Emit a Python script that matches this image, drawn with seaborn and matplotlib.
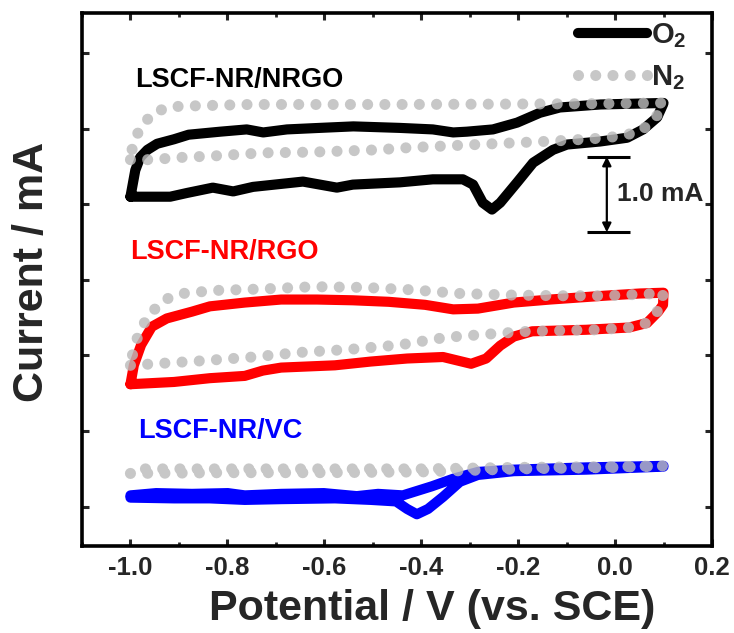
import numpy as np
import pandas as pd
import seaborn as sns
import matplotlib
matplotlib.use("Agg")
import matplotlib.pyplot as plt
from matplotlib.lines import Line2D
from matplotlib.ticker import MultipleLocator

# ---- cyclic voltammograms (potential in V vs. SCE, current in mA, curves offset) ----
# LSCF-NR/NRGO
nrgo_o2_v = [-1.0, -0.99, -0.98, -0.965, -0.945, -0.91, -0.88, -0.815, -0.76, -0.726, -0.677, -0.61,
             -0.54, -0.444, -0.376, -0.334, -0.306, -0.252, -0.202, -0.155, -0.114, -0.03, 0.037, 0.1,
             0.099, 0.087, 0.058, 0.025, -0.031, -0.099, -0.128, -0.169, -0.202, -0.237, -0.254, -0.273,
             -0.293, -0.314, -0.376, -0.444, -0.541, -0.574, -0.644, -0.747, -0.788, -0.83, -0.883,
             -0.918, -1.0]
nrgo_o2_i = [4.10, 4.45, 4.62, 4.72, 4.80, 4.86, 4.92, 4.96, 4.99, 4.95, 4.99, 5.01,
             5.03, 5.01, 4.99, 4.95, 4.96, 4.99, 5.08, 5.21, 5.28, 5.32, 5.33, 5.34,
             5.32, 5.15, 4.99, 4.88, 4.83, 4.79, 4.72, 4.55, 4.29, 4.02, 3.93, 4.02,
             4.26, 4.33, 4.33, 4.29, 4.26, 4.22, 4.30, 4.23, 4.17, 4.22, 4.15,
             4.10, 4.10]
nrgo_n2_v = [-1.0, -0.96, -0.894, -0.826, -0.726, -0.623, -0.491, -0.423, -0.32, -0.217, -0.149,
             -0.087, -0.017, 0.016, 0.051, 0.082, 0.1, -0.031, -0.444, -0.753, -0.877, -0.918,
             -0.953, -0.98, -0.995, -1.0]
nrgo_n2_i = [4.59, 4.59, 4.62, 4.64, 4.68, 4.69, 4.72, 4.75, 4.78, 4.81, 4.83,
             4.85, 4.88, 4.91, 4.96, 5.12, 5.34, 5.33, 5.32, 5.32, 5.30, 5.29,
             5.21, 5.01, 4.79, 4.59]

# LSCF-NR/RGO
rgo_o2_v = [-1.0, -0.993, -0.978, -0.956, -0.925, -0.873, -0.836, -0.764, -0.689, -0.615, -0.541,
            -0.467, -0.392, -0.334, -0.283, -0.209, -0.134, -0.023, 0.051, 0.1,
            0.099, 0.089, 0.066, 0.029, -0.06, -0.171, -0.209, -0.237, -0.266, -0.297, -0.355,
            -0.429, -0.504, -0.578, -0.689, -0.727, -0.764, -0.836, -0.91, -1.0]
rgo_o2_i = [1.62, 1.87, 2.14, 2.38, 2.49, 2.58, 2.65, 2.70, 2.74, 2.74, 2.73,
            2.71, 2.67, 2.61, 2.62, 2.70, 2.74, 2.79, 2.82, 2.83,
            2.67, 2.58, 2.43, 2.37, 2.34, 2.32, 2.25, 2.13, 1.96, 1.89, 1.98,
            1.96, 1.92, 1.87, 1.84, 1.80, 1.73, 1.70, 1.65, 1.62]
rgo_n2_v = [-1.0, -0.951, -0.852, -0.747, -0.652, -0.549, -0.444, -0.349, -0.246, -0.178, -0.037,
            0.029, 0.066, 0.091, 0.1, 0.089, -0.017, -0.112, -0.219, -0.32, -0.423, -0.518,
            -0.621, -0.727, -0.826, -0.892, -0.929, -0.96, -0.98, -0.993, -1.0]
rgo_n2_i = [1.87, 1.89, 1.93, 1.98, 2.04, 2.08, 2.14, 2.24, 2.29, 2.32, 2.34,
            2.37, 2.43, 2.61, 2.83, 2.82, 2.79, 2.79, 2.80, 2.82, 2.87, 2.90,
            2.91, 2.88, 2.86, 2.82, 2.74, 2.55, 2.34, 2.10, 1.87]

# LSCF-NR/VC
vc_o2_v = [-1.0, -0.947, -0.873, -0.799, -0.764, -0.689, -0.601, -0.533, -0.489, -0.438, -0.378,
           -0.334, -0.283, -0.209, -0.06, 0.1,
           0.1, -0.06, -0.209, -0.283, -0.32, -0.355, -0.386, -0.409, -0.429, -0.452, -0.504,
           -0.578, -0.689, -0.764, -0.836, -0.91, -1.0]
vc_o2_i = [0.15, 0.18, 0.17, 0.18, 0.15, 0.17, 0.18, 0.14, 0.17, 0.15, 0.27,
           0.37, 0.46, 0.49, 0.52, 0.54,
           0.53, 0.49, 0.47, 0.42, 0.33, 0.13, -0.03, -0.10, -0.03, 0.07, 0.09,
           0.11, 0.10, 0.09, 0.11, 0.11, 0.12]
vc_n2_v = [-1.0, -0.8, -0.6, -0.4, -0.3, -0.2, 0.0, 0.1, 0.0, -0.2, -0.3, -0.4, -0.6, -0.8, -0.98]
vc_n2_i = [0.44, 0.45, 0.45, 0.46, 0.48, 0.50, 0.52, 0.54, 0.53, 0.52, 0.51, 0.50, 0.50, 0.50, 0.50]

samples = ["LSCF-NR/NRGO", "LSCF-NR/RGO", "LSCF-NR/VC"]
sample_colors = ["#000000", "#ff0000", "#0000ff"]
label_pos = [(-0.99, 5.65), (-1.0, 3.37), (-0.985, 1.0)]
xtick_values = [-1.0, -0.8, -0.6, -0.4, -0.2, 0.0, 0.2]
xtick_labels = ["-1.0", "-0.8", "-0.6", "-0.4", "-0.2", "0.0", "0.2"]

curves = {
    ("LSCF-NR/NRGO", "O2"): (nrgo_o2_v, nrgo_o2_i),
    ("LSCF-NR/NRGO", "N2"): (nrgo_n2_v, nrgo_n2_i),
    ("LSCF-NR/RGO", "O2"): (rgo_o2_v, rgo_o2_i),
    ("LSCF-NR/RGO", "N2"): (rgo_n2_v, rgo_n2_i),
    ("LSCF-NR/VC", "O2"): (vc_o2_v, vc_o2_i),
    ("LSCF-NR/VC", "N2"): (vc_n2_v, vc_n2_i),
}

frames = []
for (sample, gas), (v, i) in curves.items():
    frames.append(pd.DataFrame({"potential": v, "current": i, "sample": sample, "gas": gas,
                                "step": np.arange(len(v))}))
df = pd.concat(frames, ignore_index=True)

sns.set_theme(style="ticks")
plt.rcParams["font.family"] = ["Liberation Sans", "DejaVu Sans"]
plt.rcParams["font.weight"] = "bold"
plt.rcParams["mathtext.fontset"] = "custom"
plt.rcParams["mathtext.rm"] = "Liberation Sans:bold"
plt.rcParams["mathtext.bf"] = "Liberation Sans:bold"

fig = plt.figure(figsize=(7.34, 6.33), dpi=100)
ax = fig.add_axes([0.1117, 0.1374, 0.8583, 0.8421])

N2_GREY = "#bbbbbb"
O2_LW = 7.3
N2_LW = 8.0
DOT = (0, (0.001, 1.55))

for sample, color in zip(samples, sample_colors):
    sub = df[(df["sample"] == sample) & (df["gas"] == "O2")]
    sns.lineplot(data=sub, x="potential", y="current", sort=False, estimator=None,
                 color=color, linewidth=O2_LW, legend=False, ax=ax)
    ax.lines[-1].set_solid_joinstyle("round")
    ax.lines[-1].set_solid_capstyle("round")
for sample in samples:
    sub = df[(df["sample"] == sample) & (df["gas"] == "N2")]
    sns.lineplot(data=sub, x="potential", y="current", sort=False, estimator=None,
                 color=N2_GREY, linewidth=N2_LW, alpha=0.82, legend=False, ax=ax)
    ln = ax.lines[-1]
    ln.set_linestyle(DOT)
    ln.set_dash_capstyle("round")

for sample, color, (lx, ly) in zip(samples, sample_colors, label_pos):
    ax.text(lx, ly, sample, color=color, fontsize=19.5, fontweight="bold",
            ha="left", va="center")

# 1.0 mA scale bar
sb_x, sb_lo, sb_hi = -0.017, 3.63, 4.63
ax.hlines([sb_lo, sb_hi], -0.058, 0.031, color="black", lw=2.2)
ax.annotate("", xy=(sb_x, sb_hi), xytext=(sb_x, sb_lo),
            arrowprops=dict(arrowstyle="<|-|>", color="black", lw=1.6,
                            shrinkA=0, shrinkB=0, mutation_scale=13))
ax.text(0.004, 4.13, "1.0 mA", fontsize=19, fontweight="bold", ha="left", va="center")

# legend
handles = [
    Line2D([], [], color="black", lw=O2_LW, solid_capstyle="round"),
    Line2D([], [], color=N2_GREY, lw=N2_LW, alpha=0.82, linestyle=DOT, dash_capstyle="round"),
]
ax.legend(handles, [r"$\mathbf{O_2}$", r"$\mathbf{N_2}$"], loc="upper left",
          bbox_to_anchor=(0.788, 0.985), frameon=False, fontsize=21,
          handlelength=2.35, handletextpad=0.15, labelspacing=0.45,
          borderpad=0, borderaxespad=0)

ax.set_xlim(-1.1, 0.2)
ax.set_ylim(-0.52, 6.53)
ax.set_xticks(xtick_values)
ax.set_xticklabels(xtick_labels)
ax.xaxis.set_minor_locator(MultipleLocator(0.1))
ax.yaxis.set_major_locator(MultipleLocator(1.0))
ax.set_yticklabels([])
ax.tick_params(axis="both", which="major", direction="in", length=5, width=2.2,
               top=True, right=True, labelsize=18.5, pad=7)
ax.tick_params(axis="x", which="minor", direction="in", length=3, width=2.0, top=True)
for s in ax.spines.values():
    s.set_linewidth(2.6)
    s.set_color("black")
for t in ax.get_xticklabels():
    t.set_fontweight("bold")

ax.set_xlabel("Potential / V (vs. SCE)", fontsize=31, fontweight="bold")
ax.set_ylabel("Current / mA", fontsize=31, fontweight="bold")
ax.xaxis.set_label_coords(0.556, -0.08)
ax.yaxis.set_label_coords(-0.047, 0.515)

fig.savefig("out.png", dpi=100)
